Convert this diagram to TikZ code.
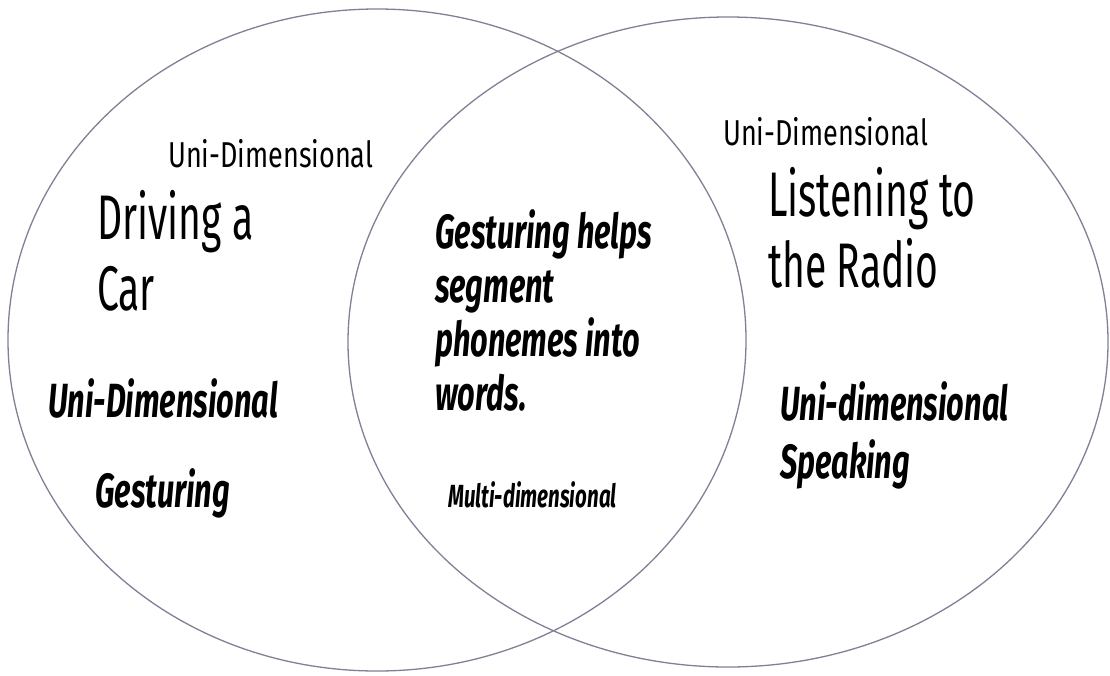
\documentclass[tikz,border=0pt]{standalone}
\usepackage{fontspec}
\usepackage{tikz}
\newfontfamily\plainface[FakeStretch=0.75]{Fira Sans}
\newfontfamily\largeface[FakeStretch=0.62]{Fira Sans}
\newfontfamily\heavyface[FakeStretch=0.64]{Fira Sans}
\definecolor{ringgray}{RGB}{128,128,150}

\begin{document}
\begin{tikzpicture}
  [x=1pt,y=-1pt,every node/.style={inner sep=0pt,anchor=base west,align=left}]
 \tikzset{RingStyle/.style={draw=ringgray,line width=1.3pt}}
 \tikzset{TagStyle/.style={font=\plainface\fontsize{36}{40}\selectfont}}
 \tikzset{TaskStyle/.style={font=\largeface\fontsize{63}{71}\selectfont}}
 \tikzset{MixStyle/.style={font=\heavyface\bfseries\itshape\fontsize{48}{58}\selectfont}}

 \fill[white] (0,0) rectangle (1110,675);
 \useasboundingbox (0,0) rectangle (1110,675);

 % the two sets
 \draw[RingStyle] (377,340) ellipse [x radius=369pt, y radius=331pt];
 \draw[RingStyle] (728,342) ellipse [x radius=380pt, y radius=325pt];

 % left set (multi-line nodes sit on their last line)
 \node[TagStyle] (n1) at (168,167) {Uni-Dimensional};
 \node[TaskStyle] (n2) at (97,310) {Driving a\\Car};
 \node[MixStyle] (n3) at (48,417) {Uni-Dimensional};
 \node[MixStyle] (n4) at (95,507) {Gesturing};

 % overlap
 \node[MixStyle,font=\heavyface\bfseries\itshape\fontsize{48}{54}\selectfont] (n5) at (435,410)
   {Gesturing helps\\segment\\phonemes into\\words.};
 \node[MixStyle,font=\heavyface\bfseries\itshape\fontsize{32}{36}\selectfont] (n6) at (448,507) {Multi-dimensional};

 % right set
 \node[TagStyle] (n7) at (723,145) {Uni-Dimensional};
 \node[TaskStyle] (n8) at (768,287) {Listening to\\the Radio};
 \node[MixStyle] (n9) at (780,478) {Uni-dimensional\\Speaking};

\end{tikzpicture}
\end{document}
